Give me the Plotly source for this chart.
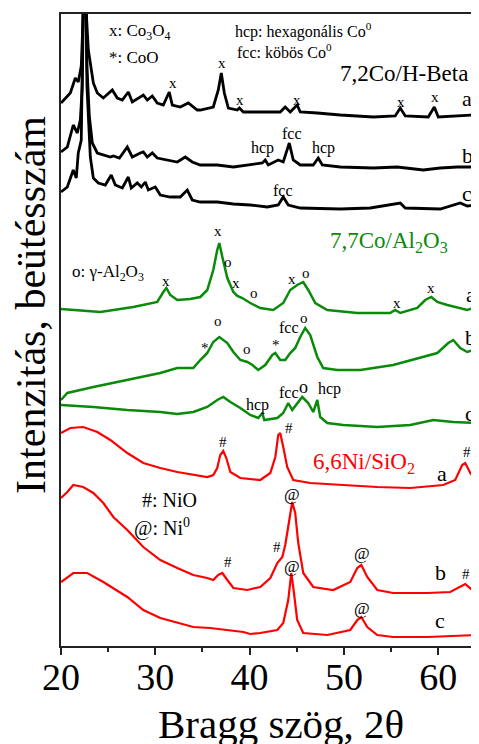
import plotly.graph_objects as go

# ---------------- data (2theta in degrees, intensity in arbitrary units incl. stacking offset) -------------
# 7,2Co/H-Beta (black)
beta_a_x = [20.0, 20.99, 21.52, 21.83, 22.15, 22.35, 22.52, 22.7, 22.9, 23.11, 23.43, 23.85, 24.49, 25.44, 25.97, 26.50,
            27.14, 27.56, 28.20, 28.73, 29.15, 29.68, 30.21, 30.85, 31.48, 31.80, 32.65, 33.50, 34.45, 34.77, 36.15,
            36.68, 37.00, 37.32, 37.75, 38.70, 38.92, 39.34, 41.88, 43.25, 43.78, 44.31, 45.05, 45.37, 47.18, 49.62,
            53.12, 55.44, 55.98, 56.51, 58.95, 59.59, 60.01, 62.02, 63.72, 64.46]
beta_a_y = [543, 553, 568, 564, 580, 630, 760, 630, 596, 581, 563, 553, 548, 556, 548, 546,
            554, 544, 548, 551, 546, 550, 543, 541, 554, 541, 539, 543, 536, 536, 539,
            556, 573, 553, 538, 536, 538, 534, 534, 534, 539, 534, 541, 534, 533, 531,
            529, 530, 538, 530, 529, 539, 529, 530, 531, 532]

beta_b_x = [20.0, 20.67, 21.30, 21.73, 22.05, 22.26, 22.52, 22.75, 23.0, 23.32, 23.85, 24.49, 25.23, 25.55, 26.2,
            27.03, 27.56, 28.41, 28.73, 29.15, 29.68, 30.21, 31.27, 32.33, 33.18, 33.92, 34.77, 36.57, 38.28, 40.07,
            41.35, 41.66, 41.98, 43.04, 43.57, 44.21, 44.63, 45.37, 46.75, 47.28, 47.71, 49.62, 53.12, 55.66, 58.42,
            60.22, 62.02, 64.46]
beta_b_y = [494, 499, 521, 513, 526, 560, 760, 580, 530, 503, 493, 491, 489, 490, 488,
            499, 489, 493, 494, 489, 493, 488, 486, 484, 489, 484, 481, 481, 479, 481,
            483, 486, 481, 486, 484, 503, 486, 481, 481, 488, 481, 479, 478, 479, 476,
            478, 479, 479]

beta_c_x = [20.0, 20.67, 21.30, 21.62, 21.83, 22.15, 22.52, 22.75, 23.11, 23.43, 23.96, 24.70, 25.33, 25.76, 26.50,
            27.14, 27.45, 28.09, 28.52, 28.94, 29.26, 30.0, 30.53, 31.59, 32.65, 33.39, 33.92, 34.77, 36.57, 38.28,
            40.07, 41.88, 43.04, 43.57, 44.10, 45.37, 49.62, 52.8, 55.98, 56.51, 60.22, 62.34, 63.08, 64.46]
beta_c_y = [454, 459, 476, 468, 493, 506, 760, 560, 489, 468, 463, 461, 471, 461, 458,
            469, 458, 463, 459, 464, 456, 459, 451, 449, 449, 456, 446, 444, 444, 442,
            441, 439, 441, 449, 441, 438, 437, 438, 443, 438, 437, 443, 440, 441]

# 7,7Co/Al2O3 (green)
al_a_x = [20.0, 24.17, 27.67, 30.21, 30.85, 31.17, 31.59, 32.33, 33.7, 34.77, 35.51, 36.15, 36.57, 36.79, 37.11,
          37.64, 38.28, 38.70, 39.23, 40.07, 41.13, 42.51, 43.57, 44.31, 45.05, 45.69, 46.22, 46.97, 48.24, 51.42,
          54.9, 55.44, 55.98, 57.78, 58.63, 59.27, 59.91, 60.97, 63.08, 63.72, 64.46]
al_a_y = [337, 334, 339, 344, 354, 358, 351, 346, 347, 349, 356, 376, 396, 403, 389,
          368, 354, 350, 348, 343, 338, 336, 343, 356, 361, 364, 356, 343, 336, 333,
          333, 336, 333, 338, 346, 349, 344, 341, 336, 338, 344]

al_b_x = [20.0, 20.67, 23.43, 27.03, 30.53, 32.33, 34.03, 34.77, 35.51, 36.15, 36.79, 37.64, 38.28, 39.02, 39.77,
          40.3, 40.92, 41.66, 42.41, 42.73, 43.25, 43.78, 44.31, 44.84, 45.37, 45.90, 46.43, 47.18, 47.81, 49.30,
          51.74, 55.23, 58.10, 59.91, 61.07, 61.60, 62.34, 63.08, 63.72, 64.46]
al_b_y = [246, 253, 259, 266, 273, 278, 278, 286, 293, 304, 309, 303, 294, 286, 284,
          281, 276, 281, 291, 293, 286, 286, 293, 298, 309, 318, 311, 289, 278, 276,
          276, 281, 288, 293, 303, 306, 298, 294, 296, 299]

al_c_x = [20.0, 23.43, 27.03, 30.53, 32.33, 34.03, 35.51, 36.57, 37.21, 37.96, 39.02, 40.07, 40.92, 41.35, 41.56,
          42.94, 43.57, 44.10, 44.52, 45.05, 45.58, 46.22, 46.75, 47.18, 47.49, 48.24, 49.94, 53.54, 57.04, 59.48,
          61.60, 64.46]
al_c_y = [241, 239, 236, 234, 232, 234, 239, 246, 249, 244, 238, 231, 228, 233, 226,
          228, 233, 243, 236, 243, 249, 243, 234, 246, 229, 223, 221, 219, 221, 226,
          224, 223]

# 6,6Ni/SiO2 (red)
ni_a_x = [20.0, 20.99, 22.36, 23.85, 25.23, 27.03, 28.73, 30.53, 32.33, 34.03, 35.51, 36.15, 36.57, 36.89, 37.21,
          37.53, 37.96, 39.02, 41.13, 42.20, 42.73, 43.04, 43.25, 43.57, 43.99, 44.63, 46.43, 49.94, 53.54, 57.04,
          60.54, 61.81, 62.55, 62.87, 63.40, 64.14]
ni_a_y = [213, 218, 219, 214, 206, 193, 183, 178, 174, 171, 169, 171, 178, 191, 195,
          188, 174, 168, 166, 173, 189, 211, 213, 199, 179, 166, 163, 161, 159, 158,
          161, 166, 181, 183, 173, 164]

ni_b_x = [20.0, 20.67, 21.30, 22.36, 23.43, 24.49, 25.55, 27.03, 28.73, 30.53, 32.33, 34.03, 35.51, 36.15, 36.68,
          37.11, 37.64, 38.28, 39.77, 41.13, 42.20, 42.94, 43.47, 43.78, 43.99, 44.31, 44.52, 44.84, 45.16, 45.69,
          46.75, 48.87, 50.68, 51.42, 51.85, 52.48, 53.54, 55.23, 58.84, 61.28, 62.34, 62.87, 63.61, 64.14]
ni_b_y = [148, 154, 161, 159, 153, 143, 129, 116, 99, 86, 78, 71, 68, 66, 71,
          73, 66, 58, 56, 59, 68, 83, 89, 101, 113, 133, 144, 133, 103, 73,
          59, 56, 64, 78, 81, 69, 56, 53, 53, 54, 59, 62, 56, 53]

ni_c_x = [20.0, 21.30, 22.79, 24.49, 27.03, 28.73, 30.53, 32.33, 34.03, 35.83, 37.64, 39.34, 40.07, 41.13, 42.94,
          43.57, 44.10, 44.31, 44.42, 44.63, 45.05, 45.69, 48.24, 50.68, 51.42, 51.85, 52.48, 53.54, 55.23, 58.84,
          62.34, 64.14]
ni_c_y = [64, 73, 73, 64, 49, 36, 28, 23, 19, 18, 16, 14, 12, 13, 16,
          23, 46, 61, 73, 59, 26, 13, 11, 16, 26, 29, 19, 11, 9, 9,
          10, 11]

x_tick_vals = [20, 30, 40, 50, 60]
x_tick_text = ["20", "30", "40", "50", "60"]

BLACK = "#000000"
GREEN = "#0a8a0a"
RED = "#ff0000"
SERIF = "Liberation Serif, Times New Roman, serif"

fig = go.Figure()
curves = [
    (beta_a_x, beta_a_y, BLACK, 2.8), (beta_b_x, beta_b_y, BLACK, 2.8), (beta_c_x, beta_c_y, BLACK, 2.8),
    (al_a_x, al_a_y, GREEN, 2.5), (al_b_x, al_b_y, GREEN, 2.5), (al_c_x, al_c_y, GREEN, 2.5),
    (ni_a_x, ni_a_y, RED, 2.2), (ni_b_x, ni_b_y, RED, 2.2), (ni_c_x, ni_c_y, RED, 2.2),
]
for xs, ys, col, w in curves:
    fig.add_trace(go.Scatter(x=xs, y=ys, mode="lines", line=dict(color=col, width=w),
                             showlegend=False, hoverinfo="skip"))

# annotations: (text, x, y, size, color, xanchor)
labels = [
    ("x: Co<sub>3</sub>O<sub>4</sub>", 24.91, 614, 17, BLACK, "left"),
    ("*: CoO", 24.91, 589, 17, BLACK, "left"),
    ("hcp: hexagonális Co<sup>0</sup>", 38.27, 616, 16, BLACK, "left"),
    ("fcc: köbös Co<sup>0</sup>", 38.48, 595, 16, BLACK, "left"),
    ("7,2Co/H-Beta", 56.34, 573, 23, BLACK, "center"),
    ("7,7Co/Al<sub>2</sub>O<sub>3</sub>", 54.81, 404, 23, GREEN, "center"),
    ("o: γ-Al<sub>2</sub>O<sub>3</sub>", 20.99, 373, 17, BLACK, "left"),
    ("6,6Ni/SiO<sub>2</sub>", 52.15, 183, 23, RED, "center"),
    ("#: NiO", 28.42, 146, 20, BLACK, "left"),
    ("@: Ni<sup>0</sup>", 27.57, 119, 20, BLACK, "left"),
    # black markers
    ("x", 31.90, 563, 15, BLACK, "center"), ("x", 37.11, 583, 15, BLACK, "center"),
    ("x", 39.02, 546, 15, BLACK, "center"), ("x", 45.05, 546, 15, BLACK, "center"),
    ("x", 56.09, 544, 15, BLACK, "center"), ("x", 59.70, 549, 15, BLACK, "center"),
    ("a", 63.08, 548, 22, BLACK, "center"),
    ("hcp", 41.35, 498, 16, BLACK, "center"), ("fcc", 44.52, 513, 16, BLACK, "center"),
    ("hcp", 47.81, 498, 16, BLACK, "center"), ("b", 63.08, 491, 22, BLACK, "center"),
    ("fcc", 43.57, 456, 16, BLACK, "center"), ("c", 63.08, 453, 22, BLACK, "center"),
    # green markers
    ("x", 31.17, 365, 15, BLACK, "center"), ("x", 36.68, 415, 15, BLACK, "center"),
    ("o", 37.75, 384, 15, BLACK, "center"), ("x", 38.60, 363, 15, BLACK, "center"),
    ("o", 40.50, 353, 15, BLACK, "center"), ("x", 44.52, 367, 15, BLACK, "center"),
    ("o", 46.01, 373, 15, BLACK, "center"), ("x", 55.66, 343, 15, BLACK, "center"),
    ("x", 59.27, 358, 15, BLACK, "center"), ("a", 63.51, 352, 22, BLACK, "center"),
    ("o", 36.68, 325, 15, BLACK, "center"), ("*", 35.30, 298, 15, BLACK, "center"),
    ("o", 39.77, 297, 15, BLACK, "center"), ("*", 42.83, 301, 15, BLACK, "center"),
    ("fcc", 44.21, 319, 16, BLACK, "center"), ("o", 45.80, 328, 15, BLACK, "center"),
    ("b", 63.40, 309, 22, BLACK, "center"),
    ("hcp", 40.81, 241, 16, BLACK, "center"), ("fcc", 44.21, 254, 16, BLACK, "center"),
    ("o", 45.69, 259, 18, BLACK, "center"), ("hcp", 48.45, 257, 16, BLACK, "center"),
    ("c", 63.40, 233, 22, BLACK, "center"),
    # red markers
    ("#", 37.21, 204, 15, BLACK, "center"), ("#", 44.21, 218, 15, BLACK, "center"),
    ("#", 63.08, 194, 15, BLACK, "center"), ("a", 60.43, 173, 22, BLACK, "center"),
    ("#", 37.75, 84, 15, BLACK, "center"), ("#", 42.94, 99, 15, BLACK, "center"),
    ("@", 44.52, 152, 17, BLACK, "center"), ("@", 51.95, 93, 17, BLACK, "center"),
    ("b", 60.22, 74, 22, BLACK, "center"), ("#", 62.98, 72, 15, BLACK, "center"),
    ("@", 44.52, 80, 17, BLACK, "center"), ("@", 51.95, 38, 17, BLACK, "center"),
    ("c", 60.22, 26, 22, BLACK, "center"),
]
for txt, x, y, size, col, xa in labels:
    fig.add_annotation(x=x, y=y, xref="x", yref="y", text=txt, showarrow=False,
                       xanchor=xa, yanchor="middle", font=dict(family=SERIF, size=size, color=col))

# axis titles as annotations for exact placement
fig.add_annotation(text="Bragg szög, 2θ", xref="paper", yref="paper", x=0.5275, y=-0.124,
                   xanchor="center", yanchor="middle", showarrow=False,
                   font=dict(family=SERIF, size=41, color=BLACK))
fig.add_annotation(text="Intenzitás, beütésszám", xref="paper", yref="paper", x=-0.072, y=0.5396,
                   xanchor="center", yanchor="middle", showarrow=False, textangle=-90,
                   font=dict(family=SERIF, size=42, color=BLACK))

# the page body adds an 8 px margin, so the figure is 8 px smaller and margins shifted accordingly
fig.update_layout(
    width=471, height=736,
    margin=dict(l=53, r=0, t=6, b=98, autoexpand=False),
    paper_bgcolor="white", plot_bgcolor="white",
    font=dict(family=SERIF, color="black"),
    xaxis=dict(range=[20, 64.33], showline=True, linecolor="#222", linewidth=1.5, mirror=True,
               ticks="outside", ticklen=7, tickwidth=1.5, tickcolor="#222",
               tickvals=x_tick_vals, ticktext=x_tick_text, tickfont=dict(size=38, family=SERIF),
               ticklabelstandoff=-10,
               minor=dict(ticks="outside", ticklen=4, tickwidth=1.5, tickcolor="#222", dtick=5, showgrid=False),
               showgrid=False, zeroline=False, automargin=False),
    yaxis=dict(range=[0, 632], showline=True, linecolor="#222", linewidth=1.5, mirror=False,
               showticklabels=False, ticks="", showgrid=False, zeroline=False, automargin=False),
)

fig.write_html("out.html")
